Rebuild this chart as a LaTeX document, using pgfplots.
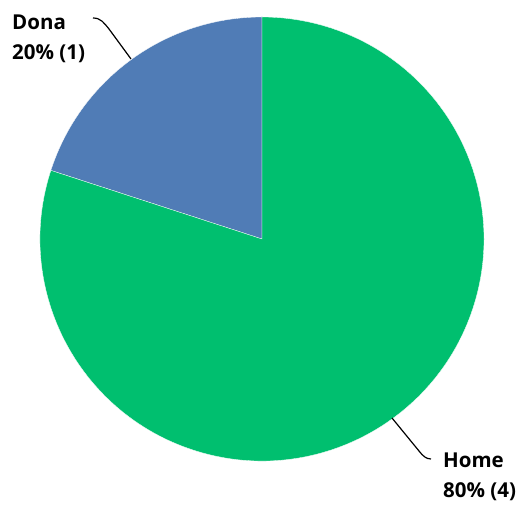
\documentclass[border=0pt]{standalone}
\usepackage{fontspec}
\setmainfont{Open Sans}
\usepackage{pgfplots}
\usepackage{pgfplotstable}
\pgfplotsset{compat=1.18}
\definecolor{homegreen}{HTML}{00BF6F}
\definecolor{donablue}{HTML}{507CB6}

% pie data: name, count
\pgfplotstableread{
name count
Dona 1
Home 4
}\piedata

\begin{document}
\begin{tikzpicture}
\pgfplotstablegetelem{0}{count}\of\piedata \let\donaval\pgfplotsretval
\pgfplotstablegetelem{1}{count}\of\piedata \let\homeval\pgfplotsretval
\pgfmathsetmacro{\total}{\donaval+\homeval}
\pgfmathsetmacro{\donaend}{90+360*\donaval/\total}
\pgfmathsetmacro{\homeend}{\donaend+360*\homeval/\total}
\begin{axis}[
	scale only axis,
	width=528pt, height=505pt,
	xmin=0, xmax=528, ymin=0, ymax=505,
	hide axis,
	clip=false,
	]
	% keep the full canvas as bounding box
	\path (axis cs:0,0) -- (axis cs:528,505);
	% slices
	\fill[donablue, draw=white, line width=0.3pt] (axis cs:262,266) -- ++(90:222pt)
		arc[start angle=90, end angle=\donaend, radius=222pt] -- cycle;
	\fill[homegreen, draw=white, line width=0.3pt] (axis cs:262,266) -- ++(\donaend:222pt)
		arc[start angle=\donaend, end angle=\homeend, radius=222pt] -- cycle;
	% leader lines
	\draw[line width=1.2pt] (axis cs:93,487) .. controls (axis cs:101,487) and (axis cs:104,482) .. (axis cs:109,476) -- (axis cs:131,446);
	\draw[line width=1.2pt] (axis cs:392,87) -- (axis cs:419,54) .. controls (axis cs:423,49) and (axis cs:426,46) .. (axis cs:431,46);
	% labels
	\node[anchor=base west, inner sep=0pt, font=\fontsize{20.5}{20.5}\selectfont\bfseries] at (axis cs:12,475) {Dona};
	\node[anchor=base west, inner sep=0pt, font=\fontsize{20.5}{20.5}\selectfont\bfseries] at (axis cs:12,445) {20\% (1)};
	\node[anchor=base west, inner sep=0pt, font=\fontsize{20.5}{20.5}\selectfont\bfseries] at (axis cs:443,37) {Home};
	\node[anchor=base west, inner sep=0pt, font=\fontsize{20.5}{20.5}\selectfont\bfseries] at (axis cs:443,7) {80\% (4)};
\end{axis}
\end{tikzpicture}
\end{document}
